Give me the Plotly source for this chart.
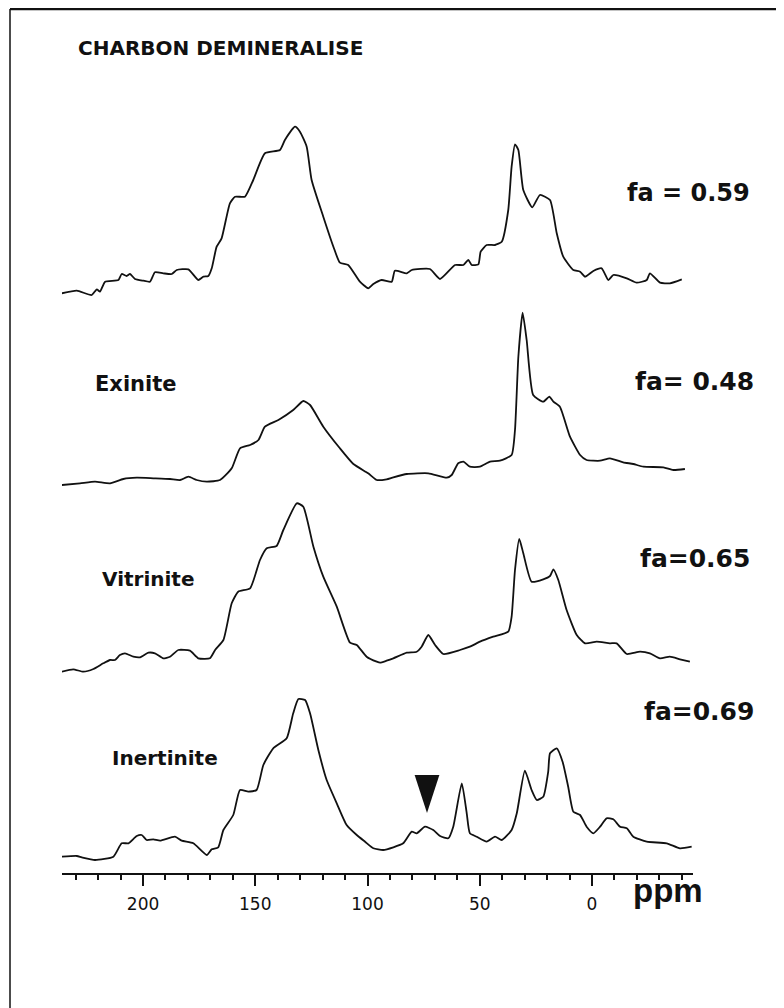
import plotly.graph_objects as go

# ---------------- data ----------------
tick_vals = [200, 150, 100, 50, 0]
tick_text = ["200", "150", "100", "50", "0"]

labels = ["CHARBON DEMINERALISE", "Exinite", "Vitrinite", "Inertinite"]
fa_text = ["fa = 0.59", "fa= 0.48", "fa=0.65", "fa=0.69"]

# vertical offsets (baselines) of the stacked spectra, arbitrary units
baselines = [578, 387, 201, 15]

charbon_ppm = [236.2, 229.5, 222.9, 220.6, 219.2, 216.9, 211.0, 209.5, 207.3, 205.8, 203.6, 199.9,
               196.9, 194.7, 191.0, 187.2, 185.0, 179.8, 175.4, 173.1, 170.9, 169.4, 167.2, 165.0,
               161.3, 159.0, 154.6, 150.9, 145.7, 139.0, 136.8, 132.3, 130.1, 127.1, 124.9, 119.7,
               115.2, 112.3, 108.6, 103.4, 99.7, 97.4, 93.7, 89.2, 87.8, 82.5, 80.3, 72.2, 67.7,
               61.0, 57.3, 55.1, 53.6, 50.6, 49.6, 46.9, 43.2, 40.2, 37.3, 35.8, 34.3, 32.8, 30.6,
               26.6, 23.2, 18.7, 15.7, 12.8, 8.3, 5.3, 3.1, -0.6, -4.3, -7.3, -9.5, -15.5, -19.9,
               -24.4, -25.8, -30.3, -34.7, -40.0]
charbon_int = [1.7, 4.3, 0, 5.7, 3.3, 13.3, 15, 21, 19, 21, 16, 14.3, 13.3, 22.7, 21.7, 21, 25, 25.7,
               15, 18.3, 19, 26.7, 48.3, 56.7, 91.7, 98.3, 98.3, 115, 141.7, 145, 155, 168.3, 163.3,
               148.3, 115, 78.3, 48.3, 32.3, 30, 13.3, 6.7, 11, 15, 13.3, 24.3, 21.7, 25, 26, 16, 30,
               30, 35, 30, 30.7, 43.3, 50, 50, 53.3, 85, 128.3, 150.7, 145, 105, 87.7, 100, 95, 61.7,
               38.3, 25, 23.3, 18.3, 24, 26.7, 15, 20, 16.7, 12.3, 15, 21.7, 12.3, 11.7, 15.7]

exinite_ppm = [236.2, 228.1, 221.4, 214.7, 208.8, 202.8, 195.4, 188.0, 183.5, 179.8, 176.1, 171.6,
               165.7, 160.5, 156.8, 152.3, 148.6, 145.7, 139.7, 133.1, 128.6, 125.6, 119.7, 112.3,
               106.3, 99.7, 95.9, 91.5, 88.5, 82.5, 72.9, 64.7, 62.5, 59.6, 57.3, 54.4, 49.9, 45.4,
               41.0, 35.8, 34.3, 32.8, 30.9, 29.1, 26.2, 21.7, 19.0, 17.2, 14.3, 9.8, 5.3, 2.4, -3.6,
               -8.0, -13.9, -18.4, -22.9, -31.8, -36.2, -41.4]
exinite_int = [1, 2.7, 4.3, 2.7, 7, 8.3, 7.7, 7, 6, 9.3, 6, 4.3, 6, 17.7, 37.7, 41, 46, 59.3, 66, 76,
               85, 81, 59.3, 37.7, 22, 12.7, 6, 6.7, 8.7, 12, 12.7, 8.3, 11, 22.7, 24.3, 19.3, 19.3,
               24.3, 25.3, 31, 56, 129.3, 173.3, 146, 91, 84.3, 89.3, 84.3, 79.3, 49.3, 31, 26, 25.3,
               27.7, 23.7, 22, 19.3, 18.7, 16, 17]

vitrinite_ppm = [236.2, 231.1, 226.6, 222.1, 217.7, 214.7, 212.5, 210.3, 208.0, 204.3, 201.3, 197.6,
                 194.7, 191.0, 188.0, 184.3, 179.1, 175.4, 170.2, 167.9, 164.2, 160.5, 157.6, 152.3,
                 147.9, 144.9, 140.5, 137.5, 131.5, 128.6, 124.1, 119.7, 113.7, 107.8, 104.8, 100.4,
                 95.9, 94.4, 91.5, 88.5, 82.5, 78.1, 75.9, 72.9, 69.9, 66.2, 58.8, 54.4, 49.9, 44.0,
                 37.3, 35.8, 34.3, 32.4, 30.6, 26.9, 21.7, 18.7, 17.2, 15.0, 11.3, 6.8, 3.1, -2.1,
                 -8.0, -11.0, -15.5, -21.4, -25.8, -30.3, -34.7, -39.2, -43.6]
vitrinite_int = [0.3, 2.7, 0.3, 3, 8.7, 12, 12, 17, 18.7, 15.3, 14.7, 19.3, 18.7, 13.7, 15.3, 22, 21.3,
                 13.7, 13.7, 22, 32, 68.7, 80.3, 83.7, 112, 123.7, 126, 142, 168.7, 165.3, 125.3, 95.3,
                 65.3, 29.3, 27, 15.3, 10.3, 9.3, 11.3, 13.7, 19.3, 20.3, 25.3, 37, 27, 18, 22, 25.3,
                 30.3, 35.3, 40.3, 55.3, 102, 133, 118.7, 90.3, 92.7, 96, 102.7, 92, 62, 37, 28.7,
                 30.3, 28.7, 28.7, 18, 20.3, 18.7, 13.7, 15.3, 12.7, 10.3]

inertinite_ppm = [236.2, 229.5, 227.3, 221.4, 213.2, 209.5, 206.5, 202.8, 200.6, 198.4, 195.4, 192.4,
                  185.8, 182.8, 177.6, 171.6, 169.4, 166.5, 164.2, 159.8, 156.8, 153.1, 149.4, 146.4,
                  142.0, 136.0, 133.1, 130.8, 127.8, 125.6, 121.9, 118.2, 113.7, 109.3, 104.8, 101.1,
                  97.4, 93.0, 88.5, 84.1, 80.3, 78.1, 74.4, 70.7, 67.7, 64.0, 61.8, 58.0, 55.8, 54.4,
                  51.4, 46.9, 43.2, 40.2, 35.8, 33.5, 29.9, 26.9, 24.6, 21.7, 19.5, 18.7, 15.7, 13.1,
                  10.6, 8.3, 5.3, 2.4, -0.6, -3.6, -6.5, -9.5, -12.5, -15.5, -18.4, -24.4, -33.3,
                  -39.2, -44.4]
inertinite_int = [1.3, 2, 0.7, -2, 1.3, 14.7, 14.7, 22, 23, 18, 18.7, 17.3, 21.3, 17.3, 14.7, 3, 8.7,
                  10.7, 28, 43, 68, 66.3, 68, 93, 109.7, 119.7, 144.7, 159, 158, 144.7, 108, 78, 54.7,
                  33, 23, 16.3, 9.7, 8, 10.7, 14.7, 26.3, 24.7, 31.3, 28, 22, 19.7, 31.3, 74.7, 44.7,
                  24.7, 21.3, 16.3, 21.3, 18, 28, 44.7, 87.3, 68, 58, 61.3, 86.3, 104.7, 109.7, 96.3,
                  71.3, 46.3, 43, 31.3, 24.7, 31.3, 39.7, 38.7, 31.3, 29.7, 21.3, 16.3, 14.7, 9.7, 11.3]

# arrow marking the ~73 ppm signal in the inertinite spectrum
arrow_ppm = [73.5]
arrow_int = [45]

spectra = [(charbon_ppm, charbon_int), (exinite_ppm, exinite_int),
           (vitrinite_ppm, vitrinite_int), (inertinite_ppm, inertinite_int)]

# ---------------- layout geometry (page pixels) ----------------
PAGE_W, PAGE_H = 784, 1008
BODY = 8                              # default body margin of the html page
W, H = PAGE_W - BODY, PAGE_H - BODY   # figure size
PL, PR, PT, PB = 62, 693, 10, 873     # plot area in page pixels
PW, PH = PR - PL, PB - PT


def px(x):
    return (x - PL) / PW


def py(y):
    return (PB - y) / PH


FONT = "DejaVu Sans"
INK = "#111111"

fig = go.Figure()
for (xs, ys), base in zip(spectra, baselines):
    fig.add_trace(go.Scatter(
        x=xs, y=[base + v for v in ys], mode="lines",
        line=dict(color=INK, width=1.8, shape="spline", smoothing=0.5),
        hoverinfo="skip", showlegend=False))

fig.add_trace(go.Scatter(
    x=arrow_ppm, y=[baselines[3] + v for v in arrow_int], mode="markers",
    marker=dict(symbol="arrow", angle=180, size=40, color=INK, line=dict(width=0)),
    hoverinfo="skip", showlegend=False))

annotations = []
# title and sample names (left)
label_pos = [(76, 48, 20), (93, 384, 21), (100, 579, 20), (110, 758, 20)]
for txt, (x, y, s) in zip(labels, label_pos):
    annotations.append(dict(text="<b>%s</b>" % txt, x=px(x), y=py(y), xref="paper", yref="paper",
                            xanchor="left", yanchor="middle", showarrow=False,
                            font=dict(family=FONT, size=s, color=INK)))
# aromaticity factors (right)
fa_pos = [(625, 193, 24), (633, 381, 25), (638, 558, 25), (642, 711, 25)]
for txt, (x, y, s) in zip(fa_text, fa_pos):
    annotations.append(dict(text="<b>%s</b>" % txt, x=px(x), y=py(y), xref="paper", yref="paper",
                            xanchor="left", yanchor="middle", showarrow=False,
                            font=dict(family=FONT, size=s, color=INK)))
# axis unit
annotations.append(dict(text="<b>ppm</b>", x=px(631), y=py(890), xref="paper", yref="paper",
                        xanchor="left", yanchor="middle", showarrow=False,
                        font=dict(family="Liberation Sans", size=33, color=INK)))

shapes = [
    dict(type="line", xref="paper", yref="paper", x0=px(10), x1=px(10), y0=py(9), y1=py(PAGE_H),
         line=dict(color=INK, width=1.5)),
    dict(type="line", xref="paper", yref="paper", x0=px(10), x1=px(PAGE_W), y0=py(9), y1=py(9),
         line=dict(color=INK, width=2.5)),
]

fig.update_layout(
    width=W, height=H,
    margin=dict(l=PL - BODY, r=PAGE_W - PR, t=PT - BODY, b=PAGE_H - PB),
    paper_bgcolor="white", plot_bgcolor="white",
    annotations=annotations, shapes=shapes,
    xaxis=dict(range=[236.1, -45.0], showgrid=False, zeroline=False,
               showline=True, linecolor=INK, linewidth=2,
               tickmode="array", tickvals=tick_vals, ticktext=tick_text,
               ticks="outside", ticklen=11, tickwidth=1.5, tickcolor=INK,
               ticklabelstandoff=4,
               tickfont=dict(family=FONT, size=17, color=INK),
               minor=dict(tickmode="linear", tick0=0, dtick=10, ticks="outside",
                          ticklen=5, tickwidth=1.5, tickcolor=INK, showgrid=False)),
    yaxis=dict(range=[0, PH], visible=False, showgrid=False, zeroline=False),
)

fig.write_html("out.html")
